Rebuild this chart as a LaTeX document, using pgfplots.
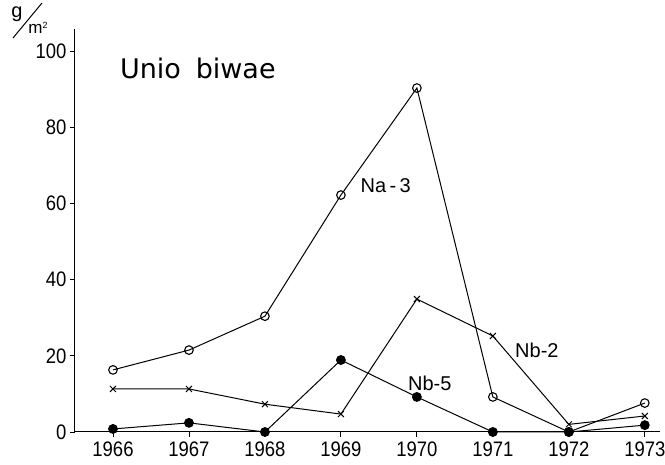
\documentclass[border=0pt]{standalone}
\usepackage{fontspec}
\usepackage{pgfplots}
\pgfplotsset{compat=1.18}
\setmainfont{Liberation Sans}
\newfontfamily\narrowfont[FakeStretch=0.88]{Liberation Sans}
\newfontfamily\titlefont{DejaVu Sans}
\begin{document}
\begin{tikzpicture}[x=1pt,y=1pt]
\path[use as bounding box] (0,0) rectangle (665,465);
\begin{axis}[
  at={(75pt,33pt)}, anchor=south west,
  scale only axis, width=585pt, height=403pt,
  xmin=1965.5, xmax=1973.2, ymin=0, ymax=105.8,
  axis x line*=bottom, axis y line*=left,
  axis line style={-, line width=1pt},
  xtick={1966,1967,1968,1969,1970,1971,1972,1973},
  xticklabels={1966,1967,1968,1969,1970,1971,1972,1973},
  ytick={0,20,40,60,80,100},
  tick align=outside, major tick length=5pt,
  tick style={line width=0.9pt, black},
  /pgf/number format/assume math mode=true,
  ticklabel style={font=\fontsize{21}{23}\selectfont\narrowfont},
  xticklabel style={yshift=-1pt},
  clip=false,
  every axis plot/.append style={line width=1pt, black},
]
\addplot[mark=o, mark size=4.3pt, mark options={fill=white, line width=1.1pt}] coordinates {
(1966,16.3) (1967,21.5) (1968,30.4) (1969,62.2) (1970,90.3) (1971,9.2) (1972,0) (1973,7.6)};
\addplot[mark=x, mark size=4.2pt, mark options={line width=1pt}] coordinates {
(1966,11.3) (1967,11.3) (1968,7.3) (1969,4.7) (1970,34.9) (1971,25.2) (1972,2.0) (1973,4.2)};
\addplot[mark=*, mark size=4.4pt, mark options={fill=black}] coordinates {
(1966,0.8) (1967,2.4) (1968,0) (1969,18.9) (1970,9.2) (1971,0) (1972,0) (1973,1.8)};
\node[font=\fontsize{20}{22}\selectfont] at (axis cs:1969.59,64.6) {Na\,-\,3};
\node[font=\fontsize{20}{22}\selectfont] at (axis cs:1971.58,21.5) {Nb-2};
\node[font=\fontsize{20}{22}\selectfont] at (axis cs:1970.17,12.9) {Nb-5};
\node[anchor=west, inner sep=0pt, font=\fontsize{27}{30}\selectfont\titlefont] at (axis cs:1966.09,95.5) {Unio\hspace{0.55em}biwae};
\end{axis}
\node[font=\fontsize{20}{22}\selectfont] at (17,451) {g};
\node[font=\fontsize{17}{18}\selectfont, inner sep=0pt] at (38,437) {m\raisebox{0.6ex}{\fontsize{9}{10}\selectfont 2}};
\draw[line width=1pt] (13,427) -- (42,462);
\end{tikzpicture}
\end{document}
